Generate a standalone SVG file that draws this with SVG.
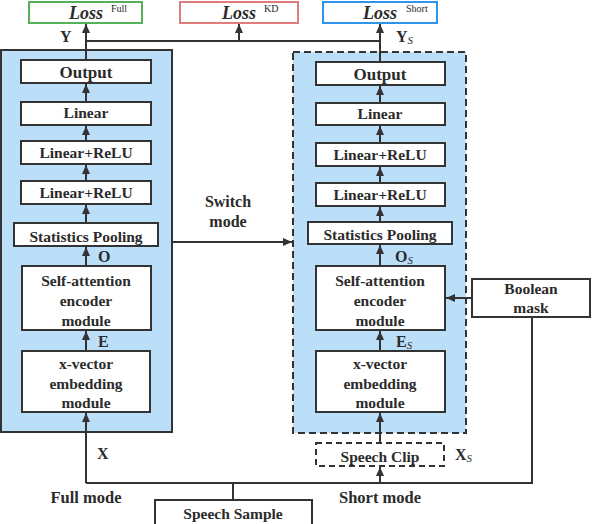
<svg xmlns="http://www.w3.org/2000/svg" width="592" height="524" viewBox="0 0 592 524">
<defs>
<marker id="ah" viewBox="0 0 9 8" refX="9" refY="4" markerWidth="9" markerHeight="8" markerUnits="userSpaceOnUse" orient="auto">
<path d="M0,0 L9,4 L0,8 Z" fill="#333"/>
</marker>
<style>
text{font-family:'Liberation Serif',Tinos,'DejaVu Serif',serif}
.t{font-weight:bold;font-size:15.5px;fill:#2b2b2b;text-anchor:middle}
.big{font-size:17px}
.lbl{font-weight:bold;font-size:16px;fill:#2b2b2b}
.sub{font-style:italic;font-weight:normal;font-size:11px}
.loss{font-style:italic;font-weight:bold;font-size:18px;fill:#2b2b2b}
.sup{font-size:10px;fill:#2b2b2b}
.box{fill:#fff;stroke:#333;stroke-width:2}
.panel{fill:#bcdff9;stroke:#333;stroke-width:2}
.ln{fill:none;stroke:#333;stroke-width:2}
.arr{fill:none;stroke:#333;stroke-width:2;marker-end:url(#ah)}
</style>
</defs>
<rect width="592" height="524" fill="#fff"/>

<g id="panels">
<rect class="panel" x="1" y="50" width="171" height="382"/>
<rect class="panel" x="293" y="52" width="173" height="381" stroke-dasharray="7,4"/>
</g>

<g id="lossFull"><rect x="29" y="2" width="113" height="21" fill="#fff" stroke="#55b159" stroke-width="2"/>
<text class="loss" x="69" y="19">Loss</text><text class="sup" x="111" y="12">Full</text></g>
<g id="lossKD"><rect x="180" y="2" width="118" height="21" fill="#fff" stroke="#e07c7c" stroke-width="2"/>
<text class="loss" x="222" y="19">Loss</text><text class="sup" x="264" y="12">KD</text></g>
<g id="lossShort"><rect x="323" y="2" width="114" height="21" fill="#fff" stroke="#2f95ec" stroke-width="2"/>
<text class="loss" x="363" y="19">Loss</text><text class="sup" x="406" y="12">Short</text></g>

<g id="L_output"><rect class="box" x="21" y="60" width="130" height="23"/><text class="t big" x="86" y="78">Output</text></g>
<g id="L_linear"><rect class="box" x="21" y="102" width="130" height="23"/><text class="t" x="86" y="118">Linear</text></g>
<g id="L_relu1"><rect class="box" x="21" y="141" width="130" height="23"/><text class="t" x="86" y="158">Linear+ReLU</text></g>
<g id="L_relu2"><rect class="box" x="21" y="181" width="130" height="23"/><text class="t" x="86" y="198">Linear+ReLU</text></g>
<g id="L_pool"><rect class="box" x="14" y="223" width="144" height="23"/><text class="t" x="86" y="242">Statistics Pooling</text></g>
<g id="L_sa"><rect class="box" x="22" y="266" width="129" height="64"/>
<text class="t" x="86" y="286">Self-attention</text><text class="t" x="86" y="306">encoder</text><text class="t" x="86" y="326">module</text></g>
<g id="L_xv"><rect class="box" x="22" y="351" width="128" height="61"/>
<text class="t" x="86" y="369">x-vector</text><text class="t" x="86" y="389">embedding</text><text class="t" x="86" y="408">module</text></g>

<g id="R_output"><rect class="box" x="316" y="62" width="129" height="23"/><text class="t big" x="380" y="80">Output</text></g>
<g id="R_linear"><rect class="box" x="316" y="103" width="129" height="22"/><text class="t" x="380" y="119">Linear</text></g>
<g id="R_relu1"><rect class="box" x="316" y="143" width="129" height="23"/><text class="t" x="380" y="160">Linear+ReLU</text></g>
<g id="R_relu2"><rect class="box" x="316" y="183" width="129" height="23"/><text class="t" x="380" y="200">Linear+ReLU</text></g>
<g id="R_pool"><rect class="box" x="308" y="222" width="144" height="22"/><text class="t" x="380" y="240">Statistics Pooling</text></g>
<g id="R_sa"><rect class="box" x="316" y="266" width="129" height="64"/>
<text class="t" x="380" y="286">Self-attention</text><text class="t" x="380" y="306">encoder</text><text class="t" x="380" y="326">module</text></g>
<g id="R_xv"><rect class="box" x="316" y="351" width="129" height="61"/>
<text class="t" x="380" y="369">x-vector</text><text class="t" x="380" y="389">embedding</text><text class="t" x="380" y="408">module</text></g>

<g id="speechClip"><rect class="box" x="316" y="443" width="128" height="23" stroke-dasharray="6,4"/><text class="t" x="380" y="462">Speech Clip</text></g>
<g id="booleanMask"><rect class="box" x="472" y="279" width="118" height="38"/>
<text class="t" x="531" y="294">Boolean</text><text class="t" x="531" y="313">mask</text></g>
<g id="speechSample"><rect class="box" x="155" y="500" width="157" height="25"/><text class="t" x="233" y="519">Speech Sample</text></g>

<g id="connectors">
<line class="arr" x1="86" y1="60" x2="86" y2="24"/>
<line class="arr" x1="86" y1="102" x2="86" y2="84"/>
<line class="arr" x1="86" y1="141" x2="86" y2="126"/>
<line class="arr" x1="86" y1="181" x2="86" y2="165"/>
<line class="arr" x1="86" y1="223" x2="86" y2="205"/>
<line class="arr" x1="86" y1="266" x2="86" y2="247"/>
<line class="arr" x1="86" y1="351" x2="86" y2="331"/>
<line class="arr" x1="86" y1="483" x2="86" y2="413"/>
<line class="arr" x1="380" y1="62" x2="380" y2="24"/>
<line class="arr" x1="380" y1="103" x2="380" y2="86"/>
<line class="arr" x1="380" y1="143" x2="380" y2="126"/>
<line class="arr" x1="380" y1="183" x2="380" y2="167"/>
<line class="arr" x1="380" y1="222" x2="380" y2="207"/>
<line class="arr" x1="380" y1="266" x2="380" y2="245"/>
<line class="arr" x1="380" y1="351" x2="380" y2="331"/>
<line class="arr" x1="380" y1="443" x2="380" y2="413"/>
<line class="arr" x1="380" y1="483" x2="380" y2="467"/>
<line class="ln" x1="86" y1="41" x2="380" y2="41"/>
<line class="arr" x1="239" y1="41" x2="239" y2="24"/>
<line class="arr" x1="172" y1="242" x2="292" y2="242"/>
<line class="arr" x1="472" y1="298" x2="446" y2="298"/>
<polyline class="ln" points="86,483 532,483 532,317"/>
<line class="ln" x1="233" y1="483" x2="233" y2="500"/>
</g>

<g id="labels">
<text class="lbl" x="60" y="42">Y</text>
<text class="lbl" x="396" y="42">Y<tspan class="sub" dy="2">S</tspan></text>
<text class="lbl" x="98" y="262">O</text>
<text class="lbl" x="395" y="262">O<tspan class="sub" dy="2">S</tspan></text>
<text class="lbl" x="98" y="347">E</text>
<text class="lbl" x="396" y="347">E<tspan class="sub" dy="2">S</tspan></text>
<text class="lbl" x="97" y="459">X</text>
<text class="lbl" x="455" y="460">X<tspan class="sub" dy="2">S</tspan></text>
<text class="t" x="228" y="207" style="font-size:16px">Switch</text>
<text class="t" x="228" y="227" style="font-size:16px">mode</text>
<text class="t" x="86" y="503" style="font-size:16.5px">Full mode</text>
<text class="t" x="380" y="503" style="font-size:16.5px">Short mode</text>
</g>
</svg>
